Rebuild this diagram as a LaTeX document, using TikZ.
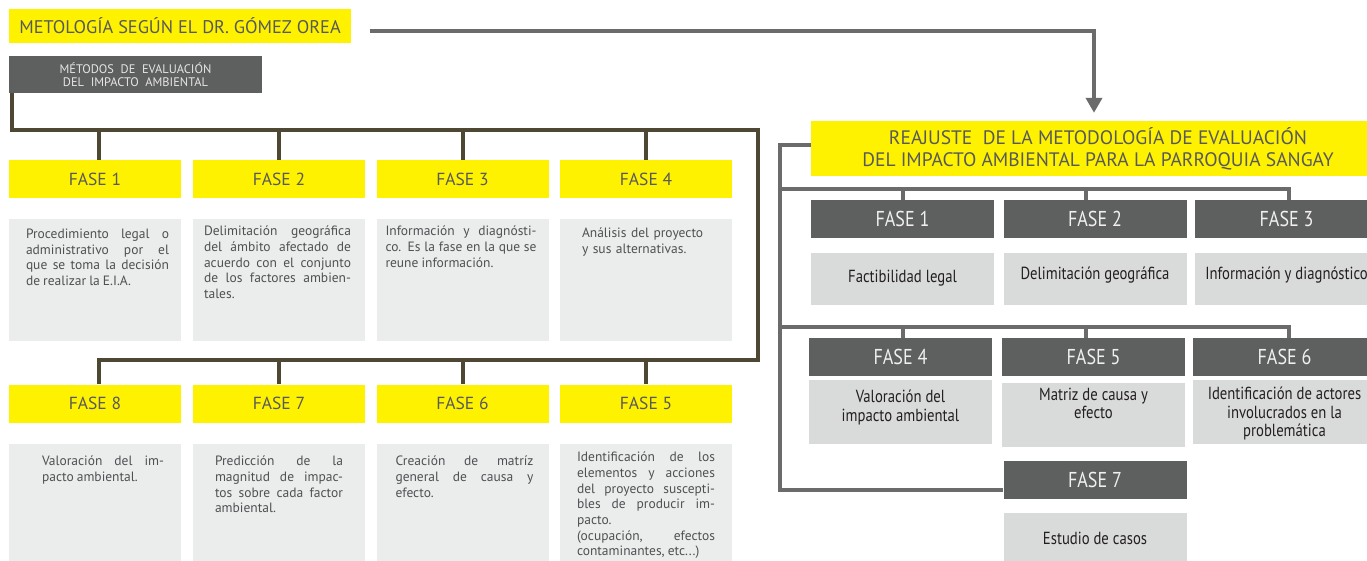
\documentclass[tikz,border=0pt]{standalone}
\usepackage{fontspec}
\setmainfont{PT Sans}
\newfontfamily\schmal[FakeStretch=0.84]{PT Sans}
\newfontfamily\fliess[WordSpace=0.85]{PT Sans}
\usepackage{tikz}
\usetikzlibrary{arrows.meta,positioning,calc}
\definecolor{gelb}{HTML}{FFF200}
\definecolor{dunkel}{HTML}{5E5F5F}
\definecolor{hellL}{HTML}{EBECEC}
\definecolor{hellR}{HTML}{D9DADA}
\definecolor{oliv}{HTML}{4E4733}
\definecolor{linieR}{HTML}{6B6B6B}
\definecolor{schrift}{HTML}{58595B}
\definecolor{fliesstext}{HTML}{4F5052}
\definecolor{textR}{HTML}{231F20}

\begin{document}
\begin{tikzpicture}[x=1pt,y=-1pt,line join=miter,
  gelbbox/.style={fill=gelb,inner sep=0pt,text=schrift},
  faseL/.style={gelbbox,minimum width=172pt,minimum height=38pt,font=\fontsize{17.5}{20}\selectfont},
  grauL/.style={fill=hellL,inner sep=0pt,minimum width=172pt},
  txtL/.style={inner sep=0pt,align=justify,text=fliesstext,font=\fliess\fontsize{13.5}{15.7}\selectfont,
    execute at begin node={\hyphenpenalty=10000 \tolerance=10000 }},
  faseR/.style={fill=dunkel,inner sep=0pt,minimum width=183pt,minimum height=38pt,text=white!94!black,font=\schmal\fontsize{21.5}{24}\selectfont},
  grauR/.style={fill=hellR,inner sep=0pt,minimum width=183pt},
  txtR/.style={inner sep=0pt,align=center,text=textR,font=\schmal\fontsize{17.5}{18.5}\selectfont},
  olivlinie/.style={draw=oliv,line width=4pt},
  grauLinie/.style={draw=linieR,line width=4pt}]
\clip (0,0) rectangle (1367,560);
%linke Seite: Methode nach Gómez Orea
\node[gelbbox,minimum width=342pt,minimum height=34pt,font=\fontsize{18.3}{20}\selectfont] (titulo) at (180,26) {METOLOGÍA SEGÚN EL DR. GÓMEZ OREA};
\node[fill=dunkel,inner sep=0pt,minimum width=253pt,minimum height=37pt,align=center,text=white!90!black,font=\fontsize{12.4}{13}\selectfont] (metodos) at (135.5,74.5) {MÉTODOS\ \ DE\ \ EVALUACIÓN\\DEL\ \ IMPACTO\ \ AMBIENTAL};
\foreach \n/\x in {1/95,2/279,3/462.5,4/646}{
  \node[faseL] (l\n) at (\x,179) {FASE \n};
  \node[grauL,minimum height=122pt] (g\n) at (\x,280) {};
}
\foreach \n/\x in {8/95,7/279,6/462.5,5/646}{
  \node[faseL] (l\n) at (\x,403.5) {FASE \n};
  \node[grauL,minimum height=126pt] (g\n) at (\x,507) {};
}
\node[txtL,text width=143pt,below right=10pt and 17pt of g1.north west] (t1) {Procedimiento legal o\linebreak administrativo por el\linebreak que se toma la decisión\linebreak de realizar la E.I.A.};
\node[txtL,text width=147pt,below right=7pt and 11pt of g2.north west] (t2) {Delimitación geográfica\linebreak del ámbito afectado de\linebreak acuerdo con el conjunto\linebreak de los factores ambien-\linebreak tales.};
\node[txtL,text width=151pt,below right=7pt and 9pt of g3.north west] (t3) {Información y diagnósti-\linebreak co. Es la fase en la que se\linebreak reune información.};
\node[txtL,text width=140pt,align=left,below right=9pt and 22pt of g4.north west] (t4) {Análisis del proyecto\\y sus alternativas.};
\node[txtL,text width=122pt,below right=12pt and 33pt of g8.north west] (t8) {Valoración del im-\linebreak pacto ambiental.};
\node[txtL,text width=128pt,below right=12pt and 22pt of g7.north west] (t7) {Predicción de la\linebreak magnitud de impac-\linebreak tos sobre cada factor\linebreak ambiental.};
\node[txtL,text width=138pt,below right=12pt and 19pt of g6.north west] (t6) {Creación de matríz\linebreak general de causa y\linebreak efecto.};
\node[txtL,text width=138pt,below right=8pt and 17pt of g5.north west] (t5) {Identificación de los\linebreak elementos y acciones\linebreak del proyecto suscepti-\linebreak bles de producir im-\linebreak pacto.\\(ocupación, efectos\linebreak contaminantes, etc...)};
%Klammer
\coordinate (eckeO) at (758,130);
\coordinate (eckeU) at (758,360);
\draw[olivlinie] ([xshift=3pt]metodos.south west) |- (eckeO) -- (eckeU) -| ([xshift=4pt]l8.north);
\draw[olivlinie] ([xshift=4pt]l1.north) -- ([xshift=4pt]l1.north |- eckeO);
\foreach \n in {2,3,4} \draw[olivlinie] (l\n.north) -- (l\n.north |- eckeO);
\foreach \n in {7,6,5} \draw[olivlinie] (l\n.north) -- (l\n.north |- eckeU);
%rechte Seite: Anpassung
\node[gelbbox,minimum width=574pt,minimum height=55pt,align=center,font=\fontsize{19.5}{22}\selectfont] (reajuste) at (1098,148.5) {REAJUSTE\ \ DE LA METODOLOGÍA DE EVALUACIÓN\\DEL IMPACTO AMBIENTAL PARA LA PARROQUIA SANGAY};
\draw[grauLinie,-{Triangle[width=16pt,length=15pt]}] ([xshift=19pt,yshift=-5pt]titulo.east) -| ([xshift=-4pt,yshift=8pt]reajuste.north);
\foreach \n/\x in {1/902.5,2/1095,3/1286.5}{
  \node[faseR] (r\n) at (\x,219) {FASE \n};
  \node[grauR,minimum height=52pt] (rg\n) at (\x,279) {};
}
\foreach \n/\x/\y in {4/900.5/412,5/1093.5/415,6/1284.5/412}{
  \node[faseR] (r\n) at (\x,357) {FASE \n};
  \node[grauR,minimum height=64pt] (rg\n) at (\x,\y) {};
}
\node[faseR] (r7) at (1095,480) {FASE 7};
\node[grauR,minimum height=57pt] (rg7) at (1095,541.5) {};
\node[txtR,below=17pt of rg1.north] (s1) {Factibilidad legal};
\node[txtR,below=14pt of rg2.north] (s2) {Delimitación geográfica};
\node[txtR,below=14pt of rg3.north] (s3) {Información y diagnóstico};
\node[txtR,below=10pt of rg4.north] (s4) {Valoración del\\impacto ambiental};
\node[txtR,below=5pt of rg5.north] (s5) {Matriz de causa y\\efecto};
\node[txtR,below=7pt of rg6.north] (s6) {Identificación de actores\\involucrados en la\\problemática};
\node[txtR,below=19pt of rg7.north] (s7) {Estudio de casos};
\coordinate (rbusO) at (780,189);
\coordinate (rbusU) at (780,327);
\draw[grauLinie] ([yshift=3.5pt]reajuste.west) -- ++(-31,0) |- ([yshift=-10pt]r7.west);
\draw[grauLinie] (rbusO) -| ([xshift=2.5pt]r3.north);
\draw[grauLinie] (rbusO -| r1.north) -- (r1.north);
\draw[grauLinie] ([xshift=-9pt]r2.north) -- ([xshift=-9pt]r2.north |- rbusO);
\draw[grauLinie] (rbusU) -| ([xshift=4.5pt]r6.north);
\draw[grauLinie] ([xshift=2.5pt]r4.north) -- ([xshift=2.5pt]r4.north |- rbusU);
\draw[grauLinie] ([xshift=-7.5pt]r5.north) -- ([xshift=-7.5pt]r5.north |- rbusU);
\end{tikzpicture}
\end{document}
